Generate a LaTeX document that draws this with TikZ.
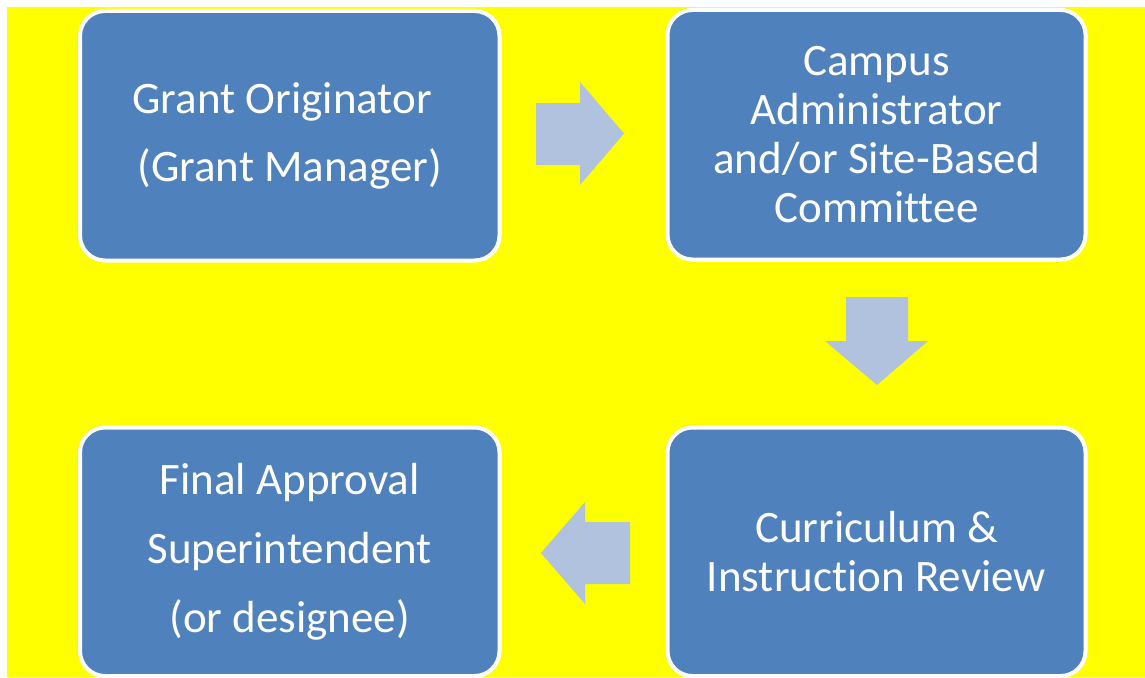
\documentclass[tikz,border=0pt]{standalone}
\usepackage{fontspec}
\setmainfont[Ligatures={NoCommon}]{Carlito}
\definecolor{boxblue}{RGB}{79,129,189}
\definecolor{arrowblue}{RGB}{176,194,222}
\definecolor{bgyellow}{RGB}{255,255,0}
\begin{document}
\begin{tikzpicture}[x=1pt,y=-1pt,
  stepbox/.style={draw=white,line width=4pt,fill=boxblue,rounded corners=25pt,
    inner sep=0pt,align=center,text=white,
    font=\fontsize{45}{49}\selectfont},
  blockarrow/.style={fill=arrowblue,draw=none}]
\useasboundingbox (0,0) rectangle (1145,677);
\fill[bgyellow] (7,7) rectangle (1145,677);
\node[stepbox,minimum width=419.5pt,minimum height=249.5pt] (b1) at (289.75,135.75)
  {Grant Originator\hspace*{15pt}\\[19pt](Grant Manager)};
\node[stepbox,minimum width=418pt,minimum height=249.5pt] (b2) at (876.5,134.75)
  {Campus\\Administrator\\and/or Site-Based\\Committee};
\node[stepbox,minimum width=418pt,minimum height=248.5pt] (b3) at (876.5,551.75)
  {Curriculum \&\\Instruction Review};
\node[stepbox,minimum width=419.5pt,minimum height=248.5pt] (b4) at (289.75,551.75)
  {Final Approval\\[20pt]Superintendent\\[20pt](or designee)};
% right arrow
\fill[blockarrow] (536,103) -- (580,103) -- (580,82) -- (624,133.5) -- (580,185)
  -- (580,165) -- (536,165) -- cycle;
% down arrow
\fill[blockarrow] (846,297) -- (908,297) -- (908,341) -- (928,341) -- (877,385)
  -- (825,341) -- (846,341) -- cycle;
% left arrow
\fill[blockarrow] (630,522) -- (585,522) -- (585,502) -- (541,553) -- (585,604)
  -- (585,584) -- (630,584) -- cycle;
\end{tikzpicture}
\end{document}
